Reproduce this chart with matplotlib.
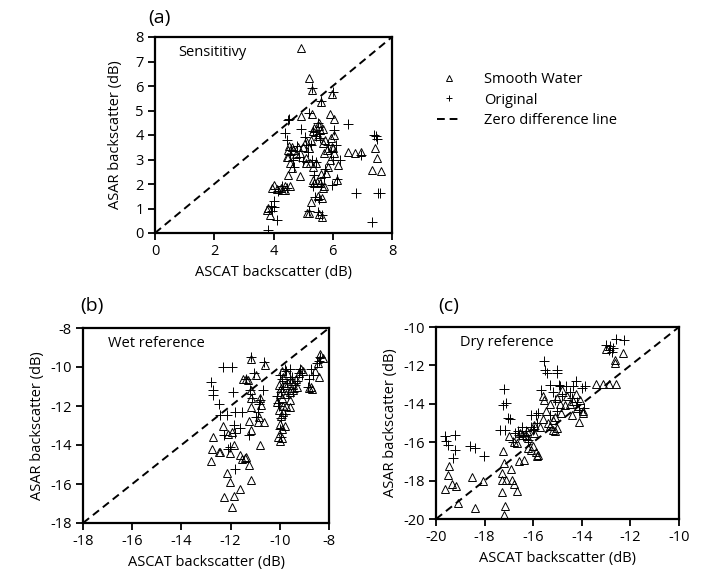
import matplotlib
matplotlib.use("Agg")
import matplotlib.pyplot as plt
from matplotlib.lines import Line2D

plt.rcParams["font.family"] = ["Open Sans", "DejaVu Sans"]
plt.rcParams["font.size"] = 10
plt.rcParams["axes.unicode_minus"] = False

# ---- panel (a): sensitivity ----
a_tri_x = [4.92, 5.21, 5.29, 5.97, 5.60, 4.93, 5.29, 5.91, 6.05, 6.05, 5.52, 6.53, 6.76, 6.94,
           7.43, 7.49, 7.34, 7.62, 6.19, 6.16, 5.69, 5.38, 4.88, 4.50, 4.00, 4.11, 4.25, 4.40,
           4.55, 5.50, 5.26, 5.63, 5.12, 5.20, 5.52, 5.63, 3.79, 3.89,
           4.54, 4.67, 4.50, 4.56, 4.63, 4.89, 5.00, 5.10, 5.22, 5.33, 5.42, 5.10, 5.27, 5.38,
           5.56, 5.67, 5.50, 5.73, 5.81, 5.96, 6.04, 5.91, 5.85, 5.77, 5.46, 5.57, 4.83,
           4.45, 4.50, 4.64, 4.77, 5.10, 5.20, 5.33, 5.55, 5.67, 5.72, 5.94, 6.00, 5.60, 5.33,
           5.67, 3.83, 3.94, 4.28, 4.39]
a_tri_y = [7.54, 6.34, 5.84, 5.66, 5.36, 4.79, 4.86, 4.86, 4.64, 4.00, 4.48, 3.32, 3.25, 3.32,
           3.46, 3.05, 2.57, 2.54, 2.78, 2.16, 1.93, 2.03, 2.33, 2.37, 1.96, 1.78, 1.85, 1.75,
           1.90, 1.51, 1.28, 1.44, 0.83, 0.83, 0.78, 0.67, 0.94, 0.73,
           3.55, 3.39, 3.12, 2.84, 2.64, 3.27, 3.53, 3.05, 2.84, 2.71, 2.86, 3.74, 3.80, 4.28,
           4.20, 4.23, 3.94, 3.80, 3.40, 3.53, 3.26, 2.98, 2.71, 2.44, 2.10, 2.03, 3.53,
           3.11, 3.38, 3.52, 3.22, 2.84, 3.45, 4.16, 4.36, 3.68, 3.27, 3.88, 3.47, 2.39, 2.15,
           1.85, 1.01, 1.82, 1.76, 1.90]
a_plus_x = [4.50, 4.93, 6.53, 6.02, 4.47, 5.07, 5.57, 6.25, 6.78, 7.54, 7.60, 7.38, 7.49, 7.32,
            5.99, 4.11, 3.83, 3.90, 4.00, 5.38, 6.16, 6.96, 5.63, 4.53, 5.29, 5.60, 5.21, 5.50,
            5.35, 5.45, 5.55, 4.60, 4.65, 4.70, 4.55, 4.85, 5.00, 5.15, 5.30, 5.42, 5.85, 5.95,
            6.02, 5.75, 5.70, 5.60, 5.35, 4.30, 4.15, 4.45, 4.00, 3.95, 5.40, 5.55, 5.20, 5.50,
            6.10, 6.05, 5.25, 5.10, 4.78, 4.40, 7.45]
a_plus_y = [4.61, 4.23, 4.45, 5.74, 3.80, 3.93, 3.87, 2.98, 1.62, 1.62, 1.62, 4.00, 3.82, 0.46,
            1.96, 0.53, 0.12, 1.10, 1.08, 2.37, 2.20, 3.18, 0.72, 4.64, 5.90, 5.40, 4.88, 4.50,
            4.15, 3.95, 4.05, 3.40, 3.00, 2.70, 3.20, 3.10, 2.95, 3.30, 3.00, 2.90, 3.60, 3.30,
            3.00, 2.60, 2.30, 2.00, 1.90, 1.90, 1.70, 1.85, 1.30, 0.90, 1.45, 1.40, 0.90, 0.85,
            3.60, 4.20, 3.60, 3.60, 3.55, 4.10, 3.95]

# ---- panel (b): wet reference ----
b_tri_x = [-12.78, -12.72, -12.74, -12.47, -12.42, -12.31, -12.11, -11.86, -12.04, -11.63, -11.52,
           -11.43, -11.36, -11.27, -12.13, -12.04, -11.63, -11.16, -12.28, -11.88, -11.94, -11.16,
           -11.27, -11.16, -10.62, -11.30, -10.95, -11.16, -11.19, -11.16, -10.82, -10.75, -10.85,
           -10.66, -10.89, -10.82, -11.50, -11.38, -11.95,
           -10.07, -10.00, -9.93, -9.90, -10.00, -9.95, -10.05, -9.85, -9.73, -9.57, -10.10, -9.90,
           -9.75, -9.60, -9.45, -9.30, -9.95, -9.80, -9.65, -9.50, -9.35, -9.20, -9.15, -9.05,
           -9.85, -9.70, -9.90, -10.05, -10.00, -9.60, -9.45, -8.80, -8.75, -8.70, -8.40, -8.35,
           -8.25, -8.45, -8.55, -9.80, -9.85]
b_tri_y = [-14.80, -13.57, -14.18, -14.37, -14.37, -13.03, -13.43, -14.00, -14.42, -14.50, -14.73,
           -14.68, -14.60, -15.02, -15.44, -15.90, -16.25, -15.82, -16.69, -16.60, -17.18, -13.23,
           -12.75, -9.57, -9.91, -10.67, -10.42, -11.19, -11.61, -12.04, -11.61, -11.95, -12.55,
           -12.80, -12.80, -14.00, -10.64, -10.64, -13.35,
           -13.57, -13.80, -13.65, -13.20, -12.90, -12.50, -12.20, -12.00, -12.00, -12.07, -11.80,
           -11.60, -11.40, -11.30, -11.20, -11.00, -11.10, -10.90, -10.80, -10.70, -10.60, -10.30,
           -10.10, -10.20, -10.50, -10.30, -10.20, -10.90, -11.40, -11.70, -10.90, -11.10, -11.00,
           -11.15, -10.50, -9.35, -9.55, -9.80, -10.20, -13.00, -12.30]
b_plus_x = [-12.30, -11.96, -12.80, -12.73, -12.72, -11.92, -12.46, -12.43, -12.13, -11.82, -11.55,
            -12.27, -11.81, -11.86, -11.62, -12.02, -11.82, -11.24, -11.16, -10.66, -11.36, -11.05,
            -10.68, -10.82, -10.95, -10.90, -11.20, -11.15, -10.85, -12.10, -10.07, -10.10, -9.95,
            -9.85, -9.70, -9.60, -9.50, -9.40, -9.30, -9.90, -9.75, -9.60, -9.80, -10.00, -10.05,
            -9.95, -10.00, -9.95, -9.80, -9.65, -9.45, -9.20, -9.10, -8.72, -9.19, -8.35, -8.85,
            -8.50, -8.40, -8.65, -8.80]
b_plus_y = [-9.98, -9.98, -10.75, -11.18, -11.44, -11.27, -11.92, -12.46, -12.46, -12.32, -12.32,
            -13.49, -13.40, -12.97, -13.11, -14.09, -15.23, -13.49, -9.48, -9.74, -10.62, -10.33,
            -11.19, -11.70, -12.55, -12.30, -11.20, -11.60, -11.90, -14.20, -11.87, -11.50, -11.30,
            -11.00, -10.80, -10.60, -10.50, -10.90, -10.70, -10.60, -10.20, -10.10, -10.10, -10.40,
            -12.00, -12.60, -13.20, -13.60, -12.40, -11.40, -11.30, -10.30, -10.40, -10.08, -10.08,
            -9.48, -11.02, -9.80, -9.70, -10.40, -10.60]

# ---- panel (c): dry reference ----
c_tri_x = [-19.62, -19.49, -19.36, -19.18, -19.47, -19.11, -18.53, -18.40, -18.05, -17.26, -17.30,
           -17.19, -17.27, -17.10, -16.89, -17.30, -16.92, -16.79, -16.66, -17.16, -17.19, -16.99,
           -16.58, -16.38, -16.66, -16.27, -16.20, -16.00, -15.90, -15.85, -15.80, -16.10, -15.49,
           -15.59, -15.57, -15.18, -14.84, -14.70, -14.42, -14.36, -14.11, -13.97, -13.97, -14.08,
           -15.18, -15.12, -15.04, -15.32, -13.40, -13.13, -12.88, -12.58, -12.64, -12.64, -12.30,
           -12.99, -16.45, -16.55, -16.30, -15.95, -15.30, -15.00, -14.80, -14.60, -14.50, -14.25,
           -14.90, -15.10, -15.40, -15.70, -15.60, -14.20, -16.80, -16.20, -15.95]
c_tri_y = [-18.44, -17.69, -18.18, -18.26, -17.22, -19.17, -17.83, -19.43, -18.04, -16.48, -17.60,
           -17.08, -18.59, -17.99, -17.99, -17.99, -17.40, -18.16, -18.52, -19.34, -19.79, -15.69,
           -17.00, -16.94, -16.04, -15.43, -15.78, -16.20, -16.50, -16.70, -16.65, -16.40, -14.39,
           -13.60, -13.80, -14.83, -14.48, -14.04, -14.57, -13.87, -14.97, -14.39, -14.50, -13.79,
           -15.35, -15.42, -15.26, -15.17, -12.97, -12.97, -12.97, -12.97, -11.88, -11.70, -11.35,
           -11.15, -15.60, -15.50, -15.60, -15.10, -14.00, -13.70, -13.30, -13.60, -14.00, -13.50,
           -14.00, -14.70, -15.00, -15.20, -14.80, -14.20, -16.00, -16.30, -15.50]
c_plus_x = [-19.62, -19.59, -19.49, -19.22, -19.22, -19.32, -18.60, -18.40, -18.03, -17.21, -17.25,
            -17.12, -17.05, -16.95, -17.37, -17.16, -16.75, -16.62, -16.45, -16.30, -16.07, -16.00,
            -15.55, -15.52, -15.45, -15.04, -15.00, -15.66, -14.90, -14.63, -14.36, -14.22, -13.88,
            -13.90, -12.99, -12.85, -12.70, -12.58, -12.26, -12.90, -12.75, -16.40, -16.20, -15.90,
            -15.85, -15.80, -15.95, -16.10, -15.30, -15.20, -15.10, -14.95, -14.80, -14.50, -14.40,
            -14.20, -14.10, -14.00, -15.30, -15.00, -16.60, -16.85]
c_plus_y = [-15.66, -15.95, -16.13, -15.64, -16.39, -16.82, -16.22, -16.30, -16.74, -13.23, -14.05,
            -13.96, -14.74, -14.79, -15.35, -15.35, -15.52, -15.43, -15.20, -15.40, -15.20, -15.35,
            -11.79, -12.22, -12.40, -12.22, -12.40, -13.26, -13.09, -13.09, -13.09, -12.83, -13.09,
            -14.22, -10.92, -11.00, -11.09, -10.63, -10.69, -11.20, -11.30, -15.70, -15.90, -14.60,
            -15.00, -14.50, -15.30, -14.60, -13.00, -13.40, -13.80, -13.00, -13.60, -13.40, -13.70,
            -13.90, -14.30, -13.20, -14.60, -14.40, -15.60, -16.00]

a_lim = (0, 8)
a_xticks = [0, 2, 4, 6, 8]
a_yticks = [0, 1, 2, 3, 4, 5, 6, 7, 8]
b_lim = (-18, -8)
b_ticks = [-18, -16, -14, -12, -10, -8]
c_lim = (-20, -10)
c_ticks = [-20, -18, -16, -14, -12, -10]

W, H = 704, 584
fig = plt.figure(figsize=(W / 100, H / 100), dpi=100)


def px_axes(x0, y0, x1, y1):
    # axes from pixel box (top-left origin)
    return fig.add_axes([x0 / W, 1 - y1 / H, (x1 - x0) / W, (y1 - y0) / H])


tri_kw = dict(ls="none", marker="^", ms=5.2, mfc="none", mec="black", mew=0.7)
plus_kw = dict(ls="none", marker="+", ms=6.5, mec="black", mew=0.7)


def panel(ax, tx, ty, px, py, lim, xticks, yticks, note, ylab_pad):
    ax.plot(px, py, **plus_kw)
    ax.plot(tx, ty, **tri_kw)
    ax.plot(lim, lim, color="black", lw=1.4, dashes=(4, 2.5))
    ax.set_xlim(lim)
    ax.set_ylim(lim)
    ax.set_xticks(xticks)
    ax.set_yticks(yticks)
    for s in ax.spines.values():
        s.set_linewidth(1.6)
    ax.tick_params(direction="out", length=5, width=1.3, labelsize=10.5, pad=3)
    ax.set_xlabel("ASCAT backscatter (dB)", fontsize=10.5, labelpad=4)
    ax.set_ylabel("ASAR backscatter (dB)", fontsize=10.5, labelpad=ylab_pad)
    ax.text(0.1, 0.92, note, transform=ax.transAxes, fontsize=10.5, va="center", ha="left")


ax_a = px_axes(155, 37, 392, 233)
panel(ax_a, a_tri_x, a_tri_y, a_plus_x, a_plus_y, a_lim, a_xticks, a_yticks, "Sensititivy", 9)
ax_b = px_axes(83, 328, 329, 523)
panel(ax_b, b_tri_x, b_tri_y, b_plus_x, b_plus_y, b_lim, b_ticks, b_ticks, "Wet reference", 4)
ax_c = px_axes(436, 327, 679, 519)
panel(ax_c, c_tri_x, c_tri_y, c_plus_x, c_plus_y, c_lim, c_ticks, c_ticks, "Dry reference", 4)

fig.text(148 / W, 1 - 18 / H, "(a)", fontsize=14, va="center", ha="left")
fig.text(80 / W, 1 - 306 / H, "(b)", fontsize=14, va="center", ha="left")
fig.text(438 / W, 1 - 306 / H, "(c)", fontsize=14, va="center", ha="left")

handles = [
    Line2D([], [], ls="none", marker="^", ms=4, mfc="none", mec="black", mew=0.7),
    Line2D([], [], ls="none", marker="+", ms=5, mec="black", mew=0.7),
    Line2D([], [], color="black", lw=1.4, dashes=(4, 2.5)),
]
fig.legend(handles, ["Smooth Water", "Original", "Zero difference line"],
           loc="upper left", bbox_to_anchor=(437 / W, 1 - 72 / H), frameon=False,
           fontsize=10.5, handlelength=1.6, handletextpad=1.6, labelspacing=0.38,
           borderpad=0, borderaxespad=0)

fig.savefig("out.png", dpi=100)
